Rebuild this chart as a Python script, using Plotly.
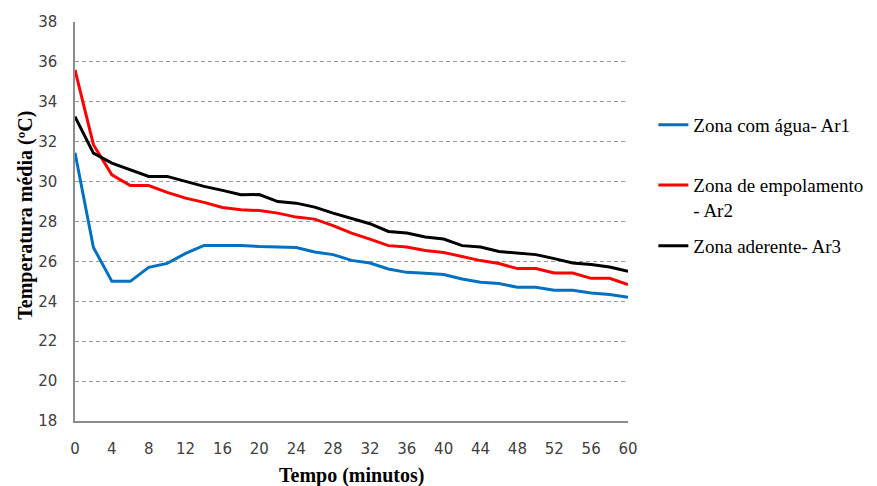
import plotly.graph_objects as go

# tempo em minutos (leitura a cada 2 min)
tempo = list(range(0, 62, 2))

ar1 = [31.45, 26.7, 25.0, 25.0, 25.7, 25.9, 26.4, 26.8, 26.8, 26.8, 26.75,
       26.72, 26.7, 26.47, 26.34, 26.05, 25.92, 25.62, 25.45, 25.4, 25.34,
       25.12, 24.95, 24.89, 24.7, 24.7, 24.55, 24.55, 24.42, 24.34, 24.2]
ar2 = [35.6, 31.85, 30.34, 29.8, 29.8, 29.46, 29.17, 28.96, 28.7, 28.59, 28.55,
       28.42, 28.22, 28.12, 27.79, 27.42, 27.12, 26.79, 26.72, 26.55, 26.45,
       26.25, 26.04, 25.89, 25.64, 25.64, 25.42, 25.42, 25.15, 25.15, 24.84]
ar3 = [33.26, 31.43, 30.93, 30.6, 30.26, 30.26, 30.0, 29.76, 29.56, 29.34, 29.35,
       29.0, 28.92, 28.72, 28.42, 28.17, 27.89, 27.5, 27.42, 27.22, 27.12,
       26.79, 26.72, 26.5, 26.42, 26.34, 26.14, 25.92, 25.84, 25.72, 25.5]

nomes = ["Zona com água- Ar1", "Zona de empolamento<br>- Ar2", "Zona aderente- Ar3"]
cores = ["#0070C0", "#FF0000", "#000000"]
legend_y = [0.742, 0.56, 0.439]

x_ticks = list(range(0, 61, 4))
y_ticks = list(range(18, 39, 2))

fig = go.Figure()
for i, (serie, nome, cor) in enumerate(zip([ar1, ar2, ar3], nomes, cores)):
    leg = "legend" if i == 0 else f"legend{i + 1}"
    fig.add_trace(go.Scatter(
        x=tempo, y=serie, name=nome, mode="lines",
        line=dict(color=cor, width=3),
        legend=leg,
    ))

legend_style = dict(
    x=0.745, xref="container", xanchor="left", yanchor="middle",
    font=dict(family="Liberation Serif", size=19, color="#000000"),
    bgcolor="rgba(0,0,0,0)", valign="top",
)
tick_font = dict(family="DejaVu Sans", size=15, color="#404040")
title_font = dict(family="Liberation Serif", size=20, color="#000000")

fig.update_layout(
    width=877, height=486,
    paper_bgcolor="white", plot_bgcolor="white",
    margin=dict(l=75, r=249, t=22, b=65, autoexpand=False),
    showlegend=True,
    legend=dict(y=legend_y[0], **legend_style),
    legend2=dict(y=legend_y[1], **legend_style),
    legend3=dict(y=legend_y[2], **legend_style),
    xaxis=dict(
        range=[0, 60], tickvals=x_ticks, showgrid=False,
        showline=True, linecolor="#8C8C8C", linewidth=1.5,
        ticks="", ticklabelstandoff=13, zeroline=False,
        tickfont=tick_font,
    ),
    yaxis=dict(
        range=[18, 38], tickvals=y_ticks,
        showgrid=True, gridcolor="#9A9A9A", griddash="4px,3px", gridwidth=1,
        showline=True, linecolor="#8C8C8C", linewidth=1.5,
        ticks="", ticklabelstandoff=13, zeroline=False,
        tickfont=tick_font,
    ),
    annotations=[
        dict(text="<b>Tempo (minutos)</b>", xref="paper", yref="paper",
             x=0.5, y=-0.137, xanchor="center", yanchor="middle",
             showarrow=False, font=title_font),
        dict(text="<b>Temperatura média (ºC)</b>", xref="paper", yref="paper",
             x=-0.09, y=0.515, xanchor="center", yanchor="middle",
             textangle=-90, showarrow=False, font=title_font),
    ],
)

fig.write_html("out.html", config={"displayModeBar": False},
               post_script="document.body.style.margin='0';")
